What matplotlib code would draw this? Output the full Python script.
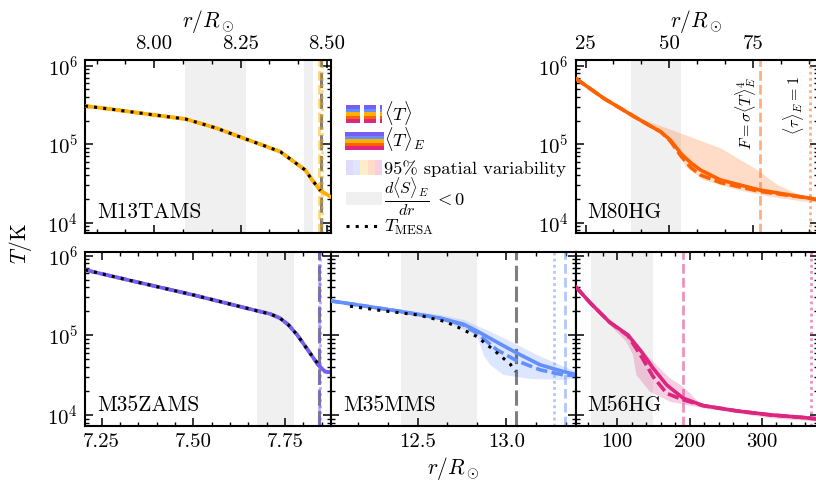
import numpy as np
import matplotlib
matplotlib.use('Agg')
import matplotlib.pyplot as plt
from matplotlib.ticker import (LogLocator, AutoMinorLocator, MultipleLocator,
                               FormatStrFormatter, NullFormatter)
from matplotlib.patches import Rectangle

plt.rcParams.update({
    'font.family': 'serif',
    'font.serif': ['cmr10'],
    'mathtext.fontset': 'cm',
    'axes.unicode_minus': False,
    'axes.formatter.use_mathtext': True,
})

# ---------------- colours ----------------
C_ZAMS = '#785EF0'
C_MMS = '#648FFF'
C_TAMS = '#FFB000'
C_80 = '#FE6100'
C_56 = '#DC267F'
MODEL_COLORS = [C_ZAMS, C_MMS, C_TAMS, C_80, C_56]

# ---------------- data (log10 T) ----------------
# M13TAMS (top left)
tams_r = [7.80, 7.89, 8.00, 8.09, 8.133, 8.181, 8.251, 8.326, 8.365, 8.417, 8.437, 8.457, 8.481, 8.51]
tams_T = [5.487, 5.437, 5.372, 5.321, 5.266, 5.203, 5.088, 4.968, 4.904, 4.735, 4.671, 4.544, 4.408, 4.331]
tams_mesa_r = [7.80, 7.89, 8.00, 8.09, 8.133, 8.181, 8.251, 8.326, 8.365, 8.417, 8.437, 8.457, 8.481]
tams_mesa_T = [5.487, 5.437, 5.372, 5.321, 5.266, 5.203, 5.088, 4.968, 4.904, 4.735, 4.671, 4.544, 4.408]
tams_shade = [(8.09, 8.266), (8.434, 8.459)]
tams_vF, tams_vtau, tams_vphot = 8.478, 8.486, 8.482

# M80HG (top right)
hg80_r = [22, 30.4, 38.7, 44.0, 47.4, 50.3, 53.6, 56.5, 59.3, 65.3, 76.9, 92.1, 94.5]
hg80_T = [5.839, 5.585, 5.372, 5.240, 5.159, 5.053, 4.875, 4.760, 4.671, 4.544, 4.417, 4.311, 4.289]
hg80_Td = [5.839, 5.585, 5.372, 5.240, 5.159, 5.040, 4.841, 4.700, 4.608, 4.510, 4.400, 4.311, 4.289]
hg80_hi_r = [22, 38.4, 53.3, 65.3, 76.3, 82.3, 90, 94.5]
hg80_hi_T = [5.839, 5.372, 5.139, 4.948, 4.671, 4.480, 4.331, 4.300]
hg80_lo_r = [22, 38.4, 50.3, 53.0, 54.8, 60.2, 70.3, 80.2, 90, 94.5]
hg80_lo_T = [5.839, 5.370, 5.050, 4.930, 4.713, 4.544, 4.417, 4.331, 4.268, 4.260]
hg80_shade = [(38.7, 53.6)]
hg80_vF, hg80_vtau = 77.0, 91.9

# M35ZAMS (bottom left)
zams_r = [7.2045, 7.336, 7.499, 7.674, 7.709, 7.736, 7.759, 7.783, 7.818, 7.84, 7.859, 7.875]
zams_T = [5.821, 5.679, 5.507, 5.307, 5.269, 5.215, 5.131, 5.005, 4.776, 4.629, 4.545, 4.537]
zams_mesa_r = [7.2045, 7.336, 7.499, 7.674, 7.709, 7.736, 7.759, 7.783, 7.818, 7.843]
zams_mesa_T = [5.821, 5.679, 5.507, 5.307, 5.269, 5.215, 5.131, 5.005, 4.776, 4.622]
zams_shade = [(7.673, 7.775)]
zams_vF, zams_vtau, zams_vphot = 7.842, 7.845, 7.843

# M35MMS (bottom middle)
mms_r = [12.0, 12.383, 12.627, 12.759, 12.834, 12.947, 13.06, 13.191, 13.322, 13.40]
mms_T = [5.436, 5.307, 5.215, 5.139, 5.055, 4.914, 4.776, 4.629, 4.545, 4.503]
mms_Td = [5.436, 5.307, 5.215, 5.130, 5.027, 4.817, 4.680, 4.566, 4.503, 4.495]
mms_mesa_r = [12.12, 12.30, 12.505, 12.656, 12.74, 12.834, 12.928, 13.022, 13.05]
mms_mesa_T = [5.365, 5.310, 5.255, 5.172, 5.089, 4.984, 4.817, 4.638, 4.545]
mms_hi_r = [12.0, 12.627, 12.759, 12.909, 13.06, 13.172, 13.322, 13.40]
mms_hi_T = [5.436, 5.256, 5.194, 5.047, 4.880, 4.754, 4.608, 4.545]
mms_lo_r = [12.0, 12.627, 12.834, 12.871, 12.909, 12.984, 13.135, 13.322, 13.40]
mms_lo_T = [5.436, 5.194, 5.005, 4.754, 4.629, 4.503, 4.453, 4.440, 4.460]
mms_shade = [(12.408, 12.835)]
mms_vF, mms_vtau, mms_vphot = 13.33, 13.27, 13.056

# M56HG (bottom right)
hg56_r = [42.1, 62.9, 89.3, 114.7, 133.3, 149.5, 168.2, 191.1, 218.9, 265.3, 311.5, 357.8, 377]
hg56_T = [5.612, 5.403, 5.165, 5.005, 4.796, 4.587, 4.378, 4.211, 4.118, 4.052, 4.002, 3.968, 3.952]
hg56_Td = [5.612, 5.403, 5.165, 4.995, 4.733, 4.482, 4.273, 4.190, 4.118, 4.052, 4.002, 3.968, 3.952]
hg56_hi_r = [42.1, 89.3, 114.7, 149.5, 172.7, 191.1, 214.3, 265.3, 377]
hg56_hi_T = [5.612, 5.165, 5.005, 4.670, 4.461, 4.357, 4.148, 4.064, 3.980]
hg56_lo_r = [42.1, 89.3, 112.5, 121.7, 126.4, 144.9, 172.7, 218.9, 311.5, 377]
hg56_lo_T = [5.612, 5.130, 4.920, 4.754, 4.503, 4.294, 4.168, 4.085, 3.960, 3.918]
hg56_shade = [(62.9, 149.5)]
hg56_vF, hg56_vtau = 191.1, 368.5

# legend labels
legend_labels = [r'$\langle T\rangle$', r'$\langle T\rangle_E$',
                 '95% spatial variability', r'$\frac{d\langle S\rangle_E}{dr}$',
                 r'$T_{\rm MESA}$']
legend_frac_tail = r'$<0$'

# ---------------- figure ----------------
W, H = 816, 487
fig = plt.figure(figsize=(W / 100, H / 100), dpi=100)


def px_axes(x0, x1, y0, y1):
    return fig.add_axes([x0 / W, 1 - y1 / H, (x1 - x0) / W, (y1 - y0) / H])


ax_tl = px_axes(85, 330.5, 60, 233)
ax_tr = px_axes(575.5, 817.5, 60, 233)
ax_bl = px_axes(85, 331, 252.3, 425.7)
ax_bm = px_axes(331, 575.5, 252.3, 425.7)
ax_br = px_axes(575.5, 817.5, 252.3, 425.7)

TICK_FS = 15
NAME_FS = 15.5
LW = 2.6


def style(ax, major, nminor, fmt, top_labels, left_labels, ylim):
    ax.set_yscale('log')
    ax.set_ylim(*ylim)
    ax.yaxis.set_major_locator(LogLocator(base=10, numticks=10))
    ax.yaxis.set_minor_locator(LogLocator(base=10, subs=np.arange(2, 10), numticks=20))
    ax.yaxis.set_minor_formatter(NullFormatter())
    ax.xaxis.set_major_locator(MultipleLocator(major))
    ax.xaxis.set_minor_locator(AutoMinorLocator(nminor))
    ax.xaxis.set_major_formatter(FormatStrFormatter(fmt))
    ax.tick_params(which='both', direction='in', top=True, right=True,
                   labelsize=TICK_FS, pad=5)
    ax.tick_params(which='major', length=5.5, width=1.1)
    ax.tick_params(which='minor', length=3, width=1.0)
    ax.tick_params(labeltop=top_labels, labelbottom=not top_labels,
                   labelleft=left_labels)
    for s in ax.spines.values():
        s.set_linewidth(1.5)
    if top_labels:
        ax.xaxis.set_label_position('top')


def draw(ax, color, r, T, Td, mesa=None, band=None, shade=(), vF=None,
         vtau=None, vphot=None, name=''):
    for a, b in shade:
        ax.axvspan(a, b, color='0.94', lw=0, zorder=0)
    if band is not None:
        hr, hT, lr, lT = band
        ax.fill(np.r_[hr, lr[::-1]], 10 ** np.r_[hT, lT[::-1]], color=color,
                alpha=0.22, lw=0, zorder=1)
    ax.plot(r, 10 ** np.asarray(Td), color=color, lw=LW, ls=(0, (3.2, 1.2)),
            zorder=3)
    ax.plot(r, 10 ** np.asarray(T), color=color, lw=LW, zorder=4)
    if mesa is not None:
        ax.plot(mesa[0], 10 ** np.asarray(mesa[1]), color='k', lw=2.2,
                ls=(0, (1, 2)), zorder=5)
    if vphot is not None:
        ax.axvline(vphot, color='k', alpha=0.5, lw=2.2, ls=(0, (5, 1.8)), zorder=2)
    if vF is not None:
        ax.axvline(vF, color=color, alpha=0.5, lw=2.0, ls=(0, (3.5, 1.5)), zorder=2)
    if vtau is not None:
        ax.axvline(vtau, color=color, alpha=0.5, lw=2.0, ls=(0, (1, 1.2)), zorder=2)
    ax.text(0.05, 0.085, name, transform=ax.transAxes, fontsize=NAME_FS,
            ha='left', va='baseline', zorder=6)


YL_TOP = (7.4e3, 1.18e6)
YL_BOT = (7.35e3, 1.10e6)

draw(ax_tl, C_TAMS, tams_r, tams_T, tams_T, mesa=(tams_mesa_r, tams_mesa_T),
     shade=tams_shade, vF=tams_vF, vtau=tams_vtau, vphot=tams_vphot, name='M13TAMS')
style(ax_tl, 0.25, 3, '%.2f', True, True, YL_TOP)
ax_tl.set_xlim(7.80, 8.51)

draw(ax_tr, C_80, hg80_r, hg80_T, hg80_Td,
     band=(hg80_hi_r, hg80_hi_T, hg80_lo_r, hg80_lo_T),
     shade=hg80_shade, vF=hg80_vF, vtau=hg80_vtau, name='M80HG')
style(ax_tr, 25, 3, '%d', True, True, YL_TOP)
ax_tr.set_xlim(22, 94.2)

draw(ax_bl, C_ZAMS, zams_r, zams_T, zams_T, mesa=(zams_mesa_r, zams_mesa_T),
     shade=zams_shade, vF=zams_vF, vtau=zams_vtau, vphot=zams_vphot, name='M35ZAMS')
style(ax_bl, 0.25, 5, '%.2f', False, True, YL_BOT)
ax_bl.set_xlim(7.2045, 7.875)

draw(ax_bm, C_MMS, mms_r, mms_T, mms_Td, mesa=(mms_mesa_r, mms_mesa_T),
     band=(mms_hi_r, mms_hi_T, mms_lo_r, mms_lo_T),
     shade=mms_shade, vF=mms_vF, vtau=mms_vtau, vphot=mms_vphot, name='M35MMS')
style(ax_bm, 0.5, 3, '%.1f', False, False, YL_BOT)
ax_bm.set_xlim(12.013, 13.389)

draw(ax_br, C_56, hg56_r, hg56_T, hg56_Td,
     band=(hg56_hi_r, hg56_hi_T, hg56_lo_r, hg56_lo_T),
     shade=hg56_shade, vF=hg56_vF, vtau=hg56_vtau, name='M56HG')
style(ax_br, 100, 5, '%d', False, False, YL_BOT)
ax_br.set_xlim(42.1, 377)

# axis labels
LAB_FS = 15.5
ax_tl.set_xlabel(r'$r/R_\odot$', fontsize=LAB_FS, labelpad=6)
ax_tr.set_xlabel(r'$r/R_\odot$', fontsize=LAB_FS, labelpad=6)
ax_bm.set_xlabel(r'$r/R_\odot$', fontsize=LAB_FS, labelpad=3)
fig.text(20 / W, 1 - 243 / H, r'$T/\mathrm{K}$', rotation=90, fontsize=LAB_FS,
         ha='center', va='center')

# rotated annotations in M80HG panel
ax_tr.annotate(r'$F=\sigma\langle T\rangle_E^4$', xy=(hg80_vF, 0.905),
               xycoords=('data', 'axes fraction'), xytext=(-1.5, 0),
               textcoords='offset points', rotation=90, ha='right', va='top',
               fontsize=11.5)
ax_tr.annotate(r'$\langle\tau\rangle_E=1$', xy=(hg80_vtau, 0.905),
               xycoords=('data', 'axes fraction'), xytext=(-2.5, 0),
               textcoords='offset points', rotation=90, ha='right', va='top',
               fontsize=11.5)

# ---------------- legend (drawn in pixel coordinates) ----------------
lg = fig.add_axes([0, 0, 1, 1], zorder=10)
lg.set_xlim(0, W)
lg.set_ylim(H, 0)
lg.axis('off')

HX0, HX1 = 346, 382
LEG_FS = 13.3
TX = 383.5


def stripes(y0, y1, segs, x0=HX0, x1=HX1):
    n = len(MODEL_COLORS)
    h = (y1 - y0) / n
    for i, c in enumerate(MODEL_COLORS):
        for a, b in segs:
            lg.add_patch(Rectangle((x0 + a * (x1 - x0), y0 + i * h),
                                   (b - a) * (x1 - x0), h, facecolor=c,
                                   edgecolor='none'))


# row 1: <T> (dashed)
stripes(105, 123, [(0, 0.385), (0.495, 0.845), (0.955, 1.0)])
# row 2: <T>_E (solid)
stripes(132, 150, [(0, 1.0)], x0=345, x1=384)
# row 3: spatial variability
wv = (HX1 - HX0) / len(MODEL_COLORS)
for i, c in enumerate(MODEL_COLORS):
    lg.add_patch(Rectangle((HX0 + i * wv, 160), wv, 15, facecolor=c,
                           edgecolor='none', alpha=0.22))
# row 4: shaded region
lg.add_patch(Rectangle((HX0, 192), HX1 - HX0, 13, facecolor='0.94',
                       edgecolor='none'))
# row 5: MESA
lg.plot([HX0, 378], [225.7, 225.7], color='k', lw=2.2, ls=(0, (1, 2)))

baselines = [120.5, 146.5, 174.3, 205.3, 231.5]
sizes = [LEG_FS, LEG_FS, LEG_FS, 16.5, LEG_FS]
for lab, yb, fs in zip(legend_labels, baselines, sizes):
    lg.text(TX, yb, lab, fontsize=fs, ha='left', va='baseline')
lg.text(434, baselines[3], legend_frac_tail, fontsize=LEG_FS, ha='left',
        va='baseline')

fig.savefig('out.png', dpi=100)
